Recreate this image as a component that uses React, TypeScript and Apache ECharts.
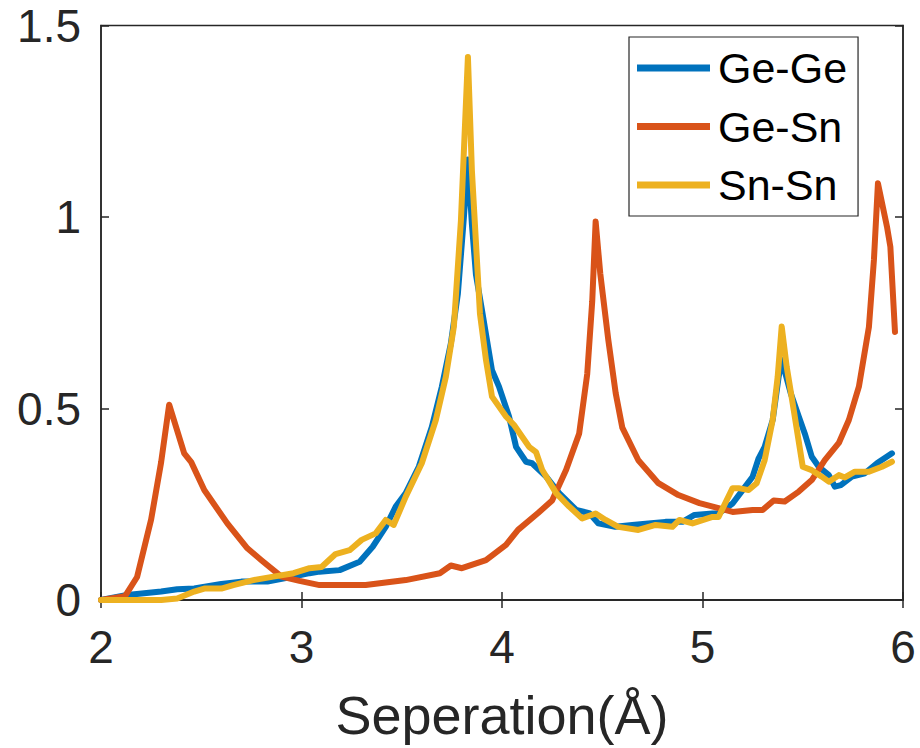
import React, { useEffect, useRef } from "react";
import * as echarts from "echarts";

const seriesNames = ["Ge-Ge", "Ge-Sn", "Sn-Sn"];
const seriesColors = ["#0072BD", "#D95319", "#EDB120"];

const geGeX = [2.0, 2.13, 2.3, 2.38, 2.465, 2.6, 2.7, 2.83, 2.96, 3.04, 3.09, 3.19, 3.29, 3.355, 3.42, 3.47, 3.52, 3.585, 3.65, 3.7, 3.745, 3.78, 3.81, 3.83, 3.85, 3.87, 3.9, 3.95, 3.985, 4.035, 4.07, 4.12, 4.15, 4.22, 4.285, 4.37, 4.435, 4.48, 4.565, 4.65, 4.73, 4.815, 4.9, 4.96, 5.05, 5.08, 5.15, 5.2, 5.25, 5.28, 5.31, 5.35, 5.38, 5.395, 5.44, 5.48, 5.51, 5.545, 5.58, 5.63, 5.66, 5.69, 5.745, 5.81, 5.87, 5.945];
const geGeY = [0, 0.013, 0.022, 0.028, 0.03, 0.042, 0.048, 0.048, 0.061, 0.07, 0.074, 0.078, 0.1, 0.139, 0.191, 0.244, 0.279, 0.348, 0.452, 0.557, 0.67, 0.8, 1.0, 1.15, 0.98, 0.85, 0.757, 0.6, 0.557, 0.479, 0.4, 0.361, 0.357, 0.322, 0.279, 0.235, 0.227, 0.2, 0.191, 0.196, 0.2, 0.204, 0.204, 0.222, 0.226, 0.226, 0.252, 0.287, 0.322, 0.37, 0.4, 0.47, 0.583, 0.627, 0.54, 0.479, 0.435, 0.374, 0.348, 0.326, 0.296, 0.3, 0.322, 0.331, 0.357, 0.383];

const geSnX = [2.0, 2.12, 2.18, 2.25, 2.3, 2.34, 2.415, 2.45, 2.515, 2.63, 2.73, 2.8, 2.9, 2.99, 3.09, 3.32, 3.52, 3.69, 3.745, 3.8, 3.92, 4.02, 4.08, 4.18, 4.25, 4.32, 4.385, 4.425, 4.45, 4.467, 4.49, 4.53, 4.567, 4.6, 4.68, 4.78, 4.88, 4.985, 5.08, 5.15, 5.25, 5.3, 5.355, 5.41, 5.48, 5.545, 5.61, 5.68, 5.73, 5.78, 5.83, 5.855, 5.875, 5.92, 5.937, 5.96];
const geSnY = [0, 0.01, 0.06, 0.21, 0.36, 0.51, 0.383, 0.36, 0.287, 0.2, 0.135, 0.104, 0.061, 0.05, 0.039, 0.039, 0.052, 0.07, 0.09, 0.083, 0.104, 0.144, 0.183, 0.227, 0.26, 0.34, 0.435, 0.59, 0.78, 0.988, 0.853, 0.68, 0.54, 0.45, 0.365, 0.305, 0.274, 0.253, 0.24, 0.23, 0.235, 0.235, 0.26, 0.257, 0.283, 0.313, 0.365, 0.41, 0.47, 0.557, 0.713, 0.888, 1.088, 0.975, 0.922, 0.7];

const snSnX = [2.0, 2.3, 2.38, 2.465, 2.515, 2.6, 2.66, 2.76, 2.86, 2.96, 3.04, 3.1, 3.17, 3.24, 3.3, 3.37, 3.42, 3.46, 3.52, 3.6, 3.67, 3.72, 3.76, 3.795, 3.83, 3.85, 3.89, 3.92, 3.95, 4.02, 4.06, 4.135, 4.17, 4.2, 4.27, 4.335, 4.4, 4.467, 4.517, 4.58, 4.68, 4.766, 4.85, 4.885, 4.95, 5.05, 5.08, 5.15, 5.18, 5.23, 5.27, 5.31, 5.35, 5.375, 5.395, 5.42, 5.455, 5.5, 5.545, 5.595, 5.63, 5.68, 5.71, 5.76, 5.83, 5.895, 5.945];
const snSnY = [0, 0, 0.004, 0.022, 0.03, 0.03, 0.039, 0.052, 0.061, 0.07, 0.083, 0.086, 0.12, 0.13, 0.157, 0.174, 0.209, 0.196, 0.27, 0.357, 0.47, 0.583, 0.714, 0.99, 1.418, 1.12, 0.748, 0.627, 0.531, 0.479, 0.457, 0.4, 0.386, 0.34, 0.279, 0.244, 0.213, 0.226, 0.209, 0.191, 0.183, 0.196, 0.191, 0.209, 0.2, 0.217, 0.217, 0.292, 0.292, 0.287, 0.305, 0.365, 0.47, 0.583, 0.714, 0.609, 0.496, 0.348, 0.339, 0.322, 0.309, 0.326, 0.32, 0.335, 0.335, 0.348, 0.361];

const xTicks = { min: 2, max: 6, interval: 1 };
const yTicks = { min: 0, max: 1.5, interval: 0.5 };
const xTitle = "Seperation(Å)";

const FONT = "'Liberation Sans', Arial, Helvetica, sans-serif";
const AXIS = "#262626";

function pairs(xs: number[], ys: number[]) {
  return xs.map((x, i) => [x, ys[i]]);
}

export default function App() {
  const ref = useRef<HTMLDivElement>(null);
  useEffect(() => {
    if (!ref.current) return;
    const chart = echarts.init(ref.current, undefined, { renderer: "svg" });
    const tick = { show: true, inside: true, length: 8, lineStyle: { color: AXIS, width: 1.5 } };
    const datas = [pairs(geGeX, geGeY), pairs(geSnX, geSnY), pairs(snSnX, snSnY)];
    chart.setOption({
      animation: false,
      backgroundColor: "#ffffff",
      grid: {
        left: 101,
        right: 17,
        top: 25.5,
        bottom: 148,
        show: true,
        borderColor: AXIS,
        borderWidth: 1.5,
        backgroundColor: "transparent",
      },
      legend: {
        orient: "vertical",
        left: 629,
        top: 37,
        data: seriesNames,
        icon: "rect",
        itemWidth: 73,
        itemHeight: 7,
        itemGap: 10.5,
        padding: [7, 11, 7, 8],
        borderColor: AXIS,
        borderWidth: 1.2,
        backgroundColor: "#ffffff",
        textStyle: {
          fontFamily: FONT,
          fontSize: 43,
          color: "#000000",
          lineHeight: 48,
          padding: [0, 0, 0, 3],
        },
      },
      xAxis: [
        {
          type: "value",
          position: "bottom",
          min: xTicks.min,
          max: xTicks.max,
          interval: xTicks.interval,
          axisLine: { show: true, lineStyle: { color: AXIS, width: 1.5 } },
          axisTick: tick,
          splitLine: { show: false },
          axisLabel: { fontFamily: FONT, fontSize: 46, color: AXIS, margin: 24 },
          name: xTitle,
          nameLocation: "middle",
          nameGap: 88,
          nameTextStyle: { fontFamily: FONT, fontSize: 54, color: AXIS },
        },
        {
          type: "value",
          position: "top",
          min: xTicks.min,
          max: xTicks.max,
          interval: xTicks.interval,
          axisLine: { show: true, lineStyle: { color: AXIS, width: 1.5 } },
          axisTick: tick,
          splitLine: { show: false },
          axisLabel: { show: false },
        },
      ],
      yAxis: [
        {
          type: "value",
          position: "left",
          min: yTicks.min,
          max: yTicks.max,
          interval: yTicks.interval,
          axisLine: { show: true, lineStyle: { color: AXIS, width: 1.5 } },
          axisTick: tick,
          splitLine: { show: false },
          axisLabel: { fontFamily: FONT, fontSize: 46, color: AXIS, margin: 20 },
        },
        {
          type: "value",
          position: "right",
          min: yTicks.min,
          max: yTicks.max,
          interval: yTicks.interval,
          axisLine: { show: true, lineStyle: { color: AXIS, width: 1.5 } },
          axisTick: tick,
          splitLine: { show: false },
          axisLabel: { show: false },
        },
      ],
      series: seriesNames.map((name, i) => ({
        name,
        type: "line",
        xAxisIndex: 0,
        yAxisIndex: 0,
        data: datas[i],
        showSymbol: false,
        symbol: "none",
        color: seriesColors[i],
        lineStyle: { color: seriesColors[i], width: 6, join: "round", cap: "round" },
        z: 2 + i,
      })),
    });
    return () => chart.dispose();
  }, []);
  return (
    <div
      ref={ref}
      style={{ position: "fixed", left: 0, top: 0, width: 920, height: 748, background: "#fff" }}
    />
  );
}
